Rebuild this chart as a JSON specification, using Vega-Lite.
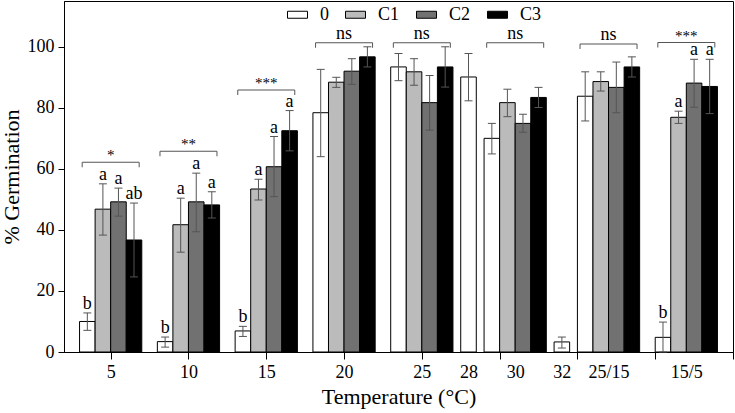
{
  "$schema": "https://vega.github.io/schema/vega-lite/v6.json",
  "width": 669,
  "height": 351,
  "autosize": {"type": "none"},
  "padding": {"left": 64, "top": 1, "right": 2, "bottom": 61},
  "background": "#ffffff",
  "config": {
    "view": {"stroke": "#000000", "strokeWidth": 1},
    "font": "Liberation Serif",
    "text": {"font": "Liberation Serif", "color": "#000000"},
    "axis": {"domainColor": "#000000", "tickColor": "#000000", "labelColor": "#000000", "titleColor": "#000000", "grid": false, "labelFont": "Liberation Serif", "titleFont": "Liberation Serif", "titleFontWeight": "normal"}
  },
  "datasets": {
    "bars": [
      {"Temperature": "5", "Treatment": "0", "mean": 10.0, "low": 7.1, "high": 12.8, "letter": "b"},
      {"Temperature": "5", "Treatment": "C1", "mean": 46.8, "low": 38.3, "high": 55.1, "letter": "a"},
      {"Temperature": "5", "Treatment": "C2", "mean": 49.2, "low": 44.5, "high": 53.7, "letter": "a"},
      {"Temperature": "5", "Treatment": "C3", "mean": 36.7, "low": 24.6, "high": 48.8, "letter": "ab"},
      {"Temperature": "10", "Treatment": "0", "mean": 3.4, "low": 1.6, "high": 4.9, "letter": "b"},
      {"Temperature": "10", "Treatment": "C1", "mean": 41.7, "low": 32.7, "high": 50.4, "letter": "a"},
      {"Temperature": "10", "Treatment": "C2", "mean": 49.2, "low": 39.4, "high": 58.6, "letter": "a"},
      {"Temperature": "10", "Treatment": "C3", "mean": 48.2, "low": 43.9, "high": 52.5, "letter": "a"},
      {"Temperature": "15", "Treatment": "0", "mean": 6.9, "low": 5.1, "high": 8.4, "letter": "b"},
      {"Temperature": "15", "Treatment": "C1", "mean": 53.4, "low": 49.8, "high": 56.6, "letter": "a"},
      {"Temperature": "15", "Treatment": "C2", "mean": 60.7, "low": 50.9, "high": 70.6, "letter": "a"},
      {"Temperature": "15", "Treatment": "C3", "mean": 72.5, "low": 65.9, "high": 79.1, "letter": "a"},
      {"Temperature": "20", "Treatment": "0", "mean": 78.4, "low": 64.0, "high": 92.6, "letter": ""},
      {"Temperature": "20", "Treatment": "C1", "mean": 88.4, "low": 86.7, "high": 90.0, "letter": ""},
      {"Temperature": "20", "Treatment": "C2", "mean": 92.0, "low": 87.7, "high": 96.1, "letter": ""},
      {"Temperature": "20", "Treatment": "C3", "mean": 96.7, "low": 93.4, "high": 100.0, "letter": ""},
      {"Temperature": "25", "Treatment": "0", "mean": 93.4, "low": 88.9, "high": 97.8, "letter": ""},
      {"Temperature": "25", "Treatment": "C1", "mean": 91.8, "low": 87.4, "high": 96.1, "letter": ""},
      {"Temperature": "25", "Treatment": "C2", "mean": 81.7, "low": 72.7, "high": 90.6, "letter": ""},
      {"Temperature": "25", "Treatment": "C3", "mean": 93.4, "low": 86.8, "high": 100.0, "letter": ""},
      {"Temperature": "28", "Treatment": "0", "mean": 90.1, "low": 82.3, "high": 97.8, "letter": ""},
      {"Temperature": "30", "Treatment": "0", "mean": 70.0, "low": 64.9, "high": 74.9, "letter": ""},
      {"Temperature": "30", "Treatment": "C1", "mean": 81.7, "low": 77.1, "high": 86.1, "letter": ""},
      {"Temperature": "30", "Treatment": "C2", "mean": 74.9, "low": 72.0, "high": 77.9, "letter": ""},
      {"Temperature": "30", "Treatment": "C3", "mean": 83.4, "low": 80.1, "high": 86.7, "letter": ""},
      {"Temperature": "32", "Treatment": "0", "mean": 3.3, "low": 1.3, "high": 4.9, "letter": ""},
      {"Temperature": "25/15", "Treatment": "0", "mean": 83.8, "low": 75.7, "high": 91.8, "letter": ""},
      {"Temperature": "25/15", "Treatment": "C1", "mean": 88.6, "low": 85.5, "high": 91.8, "letter": ""},
      {"Temperature": "25/15", "Treatment": "C2", "mean": 86.7, "low": 78.4, "high": 95.0, "letter": ""},
      {"Temperature": "25/15", "Treatment": "C3", "mean": 93.4, "low": 90.1, "high": 96.7, "letter": ""},
      {"Temperature": "15/5", "Treatment": "0", "mean": 4.8, "low": 0.0, "high": 9.8, "letter": "b"},
      {"Temperature": "15/5", "Treatment": "C1", "mean": 76.9, "low": 74.9, "high": 78.9, "letter": "a"},
      {"Temperature": "15/5", "Treatment": "C2", "mean": 88.1, "low": 80.2, "high": 95.9, "letter": "a"},
      {"Temperature": "15/5", "Treatment": "C3", "mean": 87.0, "low": 78.1, "high": 95.9, "letter": "a"}
    ],
    "brackets": [
      {"Temperature": "5", "level": 62.2, "label": "*"},
      {"Temperature": "10", "level": 65.8, "label": "**"},
      {"Temperature": "15", "level": 85.8, "label": "***"},
      {"Temperature": "20", "level": 101.3, "label": "ns"},
      {"Temperature": "25", "level": 101.3, "label": "ns"},
      {"Temperature": "30", "level": 101.3, "label": "ns"},
      {"Temperature": "25/15", "level": 100.9, "label": "ns"},
      {"Temperature": "15/5", "level": 101.4, "label": "***"}
    ]
  },
  "data": {"name": "bars"},
  "encoding": {
    "x": {
      "field": "Temperature",
      "type": "nominal",
      "sort": null,
      "scale": {
        "type": "point",
        "padding": 0,
        "domain": ["~0", "~1", "~2", "5", "~4", "~5", "~6", "~7", "10", "~9", "~10", "~11", "~12", "15", "~14", "~15", "~16", "~17", "20", "~19", "~20", "~21", "~22", "25", "~24", "~25", "28", "~27", "~28", "30", "~30", "~31", "32", "~33", "~34", "25/15", "~36", "~37", "~38", "~39", "15/5", "~41", "~42", "~43"]
      },
      "axis": {
        "title": "Temperature (°C)",
        "values": ["5", "10", "15", "20", "25", "28", "~28", "30", "32", "~33", "25/15", "~38", "15/5", "~43"],
        "labelExpr": "indexof(datum.value, '~') == 0 ? '' : datum.value",
        "tickOpacity": {"condition": {"test": "indexof(['28','30','32','25/15','15/5'], datum.value) >= 0", "value": 0}, "value": 1},
        "tickSize": 7,
        "labelAngle": 0,
        "labelOverlap": false,
        "labelFontSize": 18,
        "labelPadding": 4,
        "titleFontSize": 22,
        "titlePadding": 5
      }
    }
  },
  "layer": [
    {
      "transform": [{"filter": "datum.Temperature != '28' && datum.Temperature != '32'"}],
      "encoding": {
        "xOffset": {"field": "Treatment", "type": "nominal", "scale": {"type": "point", "domain": ["0", "C1", "C2", "C3"], "range": [-23.34, 23.34], "padding": 0}}
      },
      "layer": [
        {
          "mark": {"type": "bar", "width": 15.56, "stroke": "#000000", "strokeWidth": 1},
          "encoding": {
            "y": {"field": "mean", "type": "quantitative", "title": "% Germination", "scale": {"domain": [0, 115], "nice": false}, "axis": {"values": [0, 20, 40, 60, 80, 100], "tickSize": 6, "labelFontSize": 18, "labelPadding": 4, "titleFontSize": 22, "titlePadding": 4, "title": "% Germination"}},
            "fill": {"field": "Treatment", "type": "nominal", "scale": {"domain": ["0", "C1", "C2", "C3"], "range": ["#ffffff", "#bbbbbb", "#717171", "#000000"]}, "legend": {"orient": "none", "legendX": 223, "legendY": 3, "direction": "horizontal", "title": null, "symbolType": "M-1,-0.35L1,-0.35L1,0.35L-1,0.35Z", "symbolSize": 400, "symbolStrokeColor": "#000000", "symbolStrokeWidth": 1, "symbolOpacity": 1, "labelFont": "Liberation Serif", "labelFontSize": 18, "labelColor": "#000000", "labelOffset": 12, "columnPadding": 14}}
          }
        },
        {
          "mark": {"type": "rule", "color": "#555555", "strokeWidth": 1},
          "encoding": {"y": {"field": "low", "type": "quantitative", "title": "% Germination"}, "y2": {"field": "high"}}
        },
        {
          "mark": {"type": "tick", "color": "#555555", "size": 8, "thickness": 1, "opacity": 1},
          "encoding": {"y": {"field": "high", "type": "quantitative", "title": "% Germination"}}
        },
        {
          "mark": {"type": "tick", "color": "#555555", "size": 8, "thickness": 1, "opacity": 1},
          "encoding": {"y": {"field": "low", "type": "quantitative", "title": "% Germination"}}
        },
        {
          "mark": {"type": "text", "baseline": "alphabetic", "dy": -4, "fontSize": 18, "font": "Liberation Serif", "color": "#000000"},
          "encoding": {"y": {"field": "high", "type": "quantitative", "title": "% Germination"}, "text": {"field": "letter"}}
        }
      ]
    },
    {
      "transform": [{"filter": "datum.Temperature == '28' || datum.Temperature == '32'"}],
      "layer": [
        {
          "mark": {"type": "bar", "width": 15.56, "stroke": "#000000", "strokeWidth": 1},
          "encoding": {
            "y": {"field": "mean", "type": "quantitative", "title": "% Germination"},
            "fill": {"field": "Treatment", "type": "nominal"}
          }
        },
        {
          "mark": {"type": "rule", "color": "#555555", "strokeWidth": 1},
          "encoding": {"y": {"field": "low", "type": "quantitative", "title": "% Germination"}, "y2": {"field": "high"}}
        },
        {
          "mark": {"type": "tick", "color": "#555555", "size": 8, "thickness": 1, "opacity": 1},
          "encoding": {"y": {"field": "high", "type": "quantitative", "title": "% Germination"}}
        },
        {
          "mark": {"type": "tick", "color": "#555555", "size": 8, "thickness": 1, "opacity": 1},
          "encoding": {"y": {"field": "low", "type": "quantitative", "title": "% Germination"}}
        }
      ]
    },
    {
      "data": {"name": "brackets"},
      "layer": [
        {
          "mark": {"type": "tick", "orient": "horizontal", "color": "#555555", "size": 57, "thickness": 1, "opacity": 1},
          "encoding": {"y": {"field": "level", "type": "quantitative", "title": "% Germination"}}
        },
        {
          "mark": {"type": "tick", "orient": "vertical", "color": "#555555", "size": 5, "thickness": 1, "opacity": 1, "xOffset": -28.5, "yOffset": 2.5},
          "encoding": {"y": {"field": "level", "type": "quantitative", "title": "% Germination"}}
        },
        {
          "mark": {"type": "tick", "orient": "vertical", "color": "#555555", "size": 5, "thickness": 1, "opacity": 1, "xOffset": 28.5, "yOffset": 2.5},
          "encoding": {"y": {"field": "level", "type": "quantitative", "title": "% Germination"}}
        },
        {
          "transform": [{"filter": "datum.label == 'ns'"}],
          "mark": {"type": "text", "baseline": "alphabetic", "dy": -4, "fontSize": 18, "font": "Liberation Serif", "color": "#000000"},
          "encoding": {"y": {"field": "level", "type": "quantitative", "title": "% Germination"}, "text": {"field": "label"}}
        },
        {
          "transform": [{"filter": "datum.label != 'ns'"}],
          "mark": {"type": "text", "baseline": "middle", "dy": -7, "fontSize": 15, "font": "Liberation Serif", "color": "#000000"},
          "encoding": {"y": {"field": "level", "type": "quantitative", "title": "% Germination"}, "text": {"field": "label"}}
        }
      ]
    }
  ]
}
